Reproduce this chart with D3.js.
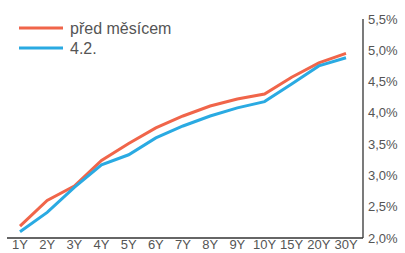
<!DOCTYPE html>
<html>
<head>
<meta charset="utf-8">
<script src="https://cdn.jsdelivr.net/npm/d3@7"></script>
<style>
body{margin:0;background:#fff;}
svg{display:block;font-family:"Liberation Sans",Arial,sans-serif;}
</style>
</head>
<body>
<svg id="chart" width="405" height="253"></svg>
<script>
// splatnosti
var tenors = ["1Y","2Y","3Y","4Y","5Y","6Y","7Y","8Y","9Y","10Y","15Y","20Y","30Y"];
var seriesNames = ["před měsícem","4.2."];
var predMesicem = [2.19,2.60,2.83,3.24,3.51,3.76,3.95,4.11,4.22,4.30,4.57,4.80,4.95];
var current = [2.10,2.41,2.81,3.17,3.33,3.60,3.79,3.95,4.08,4.18,4.46,4.75,4.88];
var yTicks = [2.0,2.5,3.0,3.5,4.0,4.5,5.0,5.5];
var colors = ["#f0654a","#2aaae2"];

var svg = d3.select("#chart");

var x = d3.scalePoint().domain(tenors).range([20,346]);
var y = d3.scaleLinear().domain([2.0,5.5]).range([238,19]);

// osy
svg.append("line").attr("x1",7).attr("x2",363).attr("y1",y(2.0)).attr("y2",y(2.0))
	.attr("stroke","#333").attr("stroke-width",1.3);
svg.append("line").attr("x1",363).attr("x2",363).attr("y1",19).attr("y2",y(2.0))
	.attr("stroke","#333").attr("stroke-width",1.3);

svg.selectAll("text.ylab").data(yTicks).enter()
	.append("text").attr("class","ylab")
	.attr("x",368).attr("y",function(d){return y(d)})
	.attr("dy","0.35em")
	.attr("font-size",13).attr("fill","#555")
	.text(function(d){return d.toFixed(1).replace(".",",")+"%"});

svg.selectAll("text.xlab").data(tenors).enter()
	.append("text").attr("class","xlab")
	.attr("x",function(d){return x(d)}).attr("y",249)
	.attr("text-anchor","middle")
	.attr("font-size",13).attr("fill","#555")
	.text(function(d){return d});

var line = d3.line()
	.x(function(d,i){return x(tenors[i])})
	.y(function(d){return y(d)});

[predMesicem,current].forEach(function(s,i){
	svg.append("path").datum(s)
		.attr("d",line)
		.attr("fill","none")
		.attr("stroke",colors[i])
		.attr("stroke-width",3);
});

// legenda
var leg = svg.selectAll("g.leg").data(seriesNames).enter()
	.append("g").attr("class","leg")
	.attr("transform",function(d,i){return "translate(19,"+(28+i*20)+")"});
leg.append("line").attr("x1",0).attr("x2",44).attr("y1",0).attr("y2",0)
	.attr("stroke",function(d,i){return colors[i]}).attr("stroke-width",3);
leg.append("text").attr("x",51).attr("y",0).attr("dy","0.35em")
	.attr("font-size",16).attr("fill","#555")
	.text(function(d){return d});
</script>
</body>
</html>
